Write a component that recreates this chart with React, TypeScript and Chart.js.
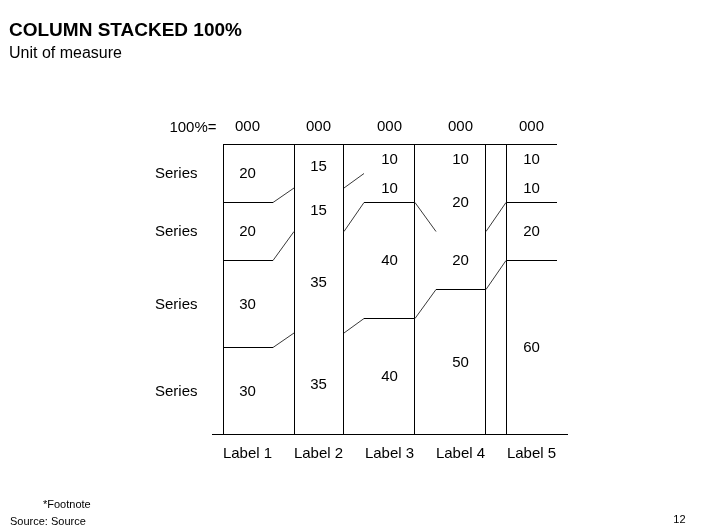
import React, { useEffect, useRef } from 'react';
import { Chart, registerables } from 'chart.js';

Chart.register(...registerables);

// ---------- data ----------
const CATEGORIES = ['Label 1', 'Label 2', 'Label 3', 'Label 4', 'Label 5'];
const TOTAL_LABELS = ['000', '000', '000', '000', '000'];
const SERIES_NAMES = ['Series', 'Series', 'Series', 'Series']; // bottom -> top
const SERIES_A = [30, 35, 40, 50, 60];
const SERIES_B = [30, 35, 40, 20, 20];
const SERIES_C = [20, 15, 10, 20, 10];
const SERIES_D = [20, 15, 10, 10, 10];
const SERIES_VALUES = [SERIES_A, SERIES_B, SERIES_C, SERIES_D];

const TITLE = 'COLUMN STACKED 100%';
const SUBTITLE = 'Unit of measure';
const TOTAL_PREFIX = '100%=';
const FOOTNOTE = '*Footnote';
const SOURCE = 'Source: Source';
const PAGE_NUMBER = '12';

// ---------- style ----------
const FONT = "'Liberation Sans', Arial, Helvetica, sans-serif";
const LABEL_SIZE = 15;
// column frame edges, as fractions of the category width (left shift, right shift)
const COLUMN_EDGES = [
  [0.155, 0.155],
  [0.155, -0.141],
  [-0.141, -0.141],
  [-0.141, -0.141],
  [0.141, -0.141],
];
const COLUMN_RIGHT_BORDER = [true, true, true, true, false];
// where divider lines start / stop inside each column (fractions of category width)
const LINE_INSETS = [
  [0, 0.296],
  [0, 0],
  [0.282, 0],
  [0.296, 0],
  [0, 0],
];
// which stack boundaries get a divider line in each column
const DIVIDERS = [[1, 2, 3], [], [1, 2], [1], [1, 2]];

const crisp = (v: number) => Math.floor(v) + 0.5;

const framePlugin = {
  id: 'mekkoFrame',
  afterDatasetsDraw(chart: any) {
    const { ctx, chartArea } = chart;
    const xs = chart.scales.x;
    const ys = chart.scales.y;
    const n = CATEGORIES.length;
    const w = n > 1 ? xs.getPixelForValue(1) - xs.getPixelForValue(0) : xs.width;

    const cols = CATEGORIES.map((_, i) => {
      const c = xs.getPixelForValue(i);
      const left = c - w / 2 + COLUMN_EDGES[i][0] * w;
      const right = c + w / 2 + COLUMN_EDGES[i][1] * w;
      const cum = [0];
      SERIES_VALUES.forEach((s) => cum.push(cum[cum.length - 1] + s[i]));
      const total = cum[cum.length - 1];
      const yAt = (k: number) => ys.getPixelForValue((cum[k] / total) * 100);
      return {
        c,
        left,
        right,
        cum,
        total,
        yAt,
        lineL: left + LINE_INSETS[i][0] * w,
        lineR: right - LINE_INSETS[i][1] * w,
      };
    });

    const top = crisp(ys.getPixelForValue(100));
    const bottom = ys.getPixelForValue(0);

    ctx.save();
    // frame lines
    ctx.strokeStyle = '#000';
    ctx.lineWidth = 1;
    ctx.beginPath();
    ctx.moveTo(Math.floor(cols[0].left), top);
    ctx.lineTo(Math.floor(cols[n - 1].right) + 1, top);
    cols.forEach((col, i) => {
      ctx.moveTo(crisp(col.left), top);
      ctx.lineTo(crisp(col.left), bottom);
      if (COLUMN_RIGHT_BORDER[i]) {
        ctx.moveTo(crisp(col.right), top);
        ctx.lineTo(crisp(col.right), bottom);
      }
      DIVIDERS[i].forEach((k) => {
        const y = crisp(col.yAt(k));
        ctx.moveTo(Math.floor(col.lineL), y);
        ctx.lineTo(Math.floor(col.lineR) + 1, y);
      });
    });
    ctx.stroke();

    // connectors between neighbouring columns
    ctx.strokeStyle = '#222';
    ctx.lineWidth = 0.9;
    ctx.beginPath();
    for (let i = 0; i < n - 1; i++) {
      const a = cols[i];
      const b = cols[i + 1];
      for (let k = 1; k < SERIES_VALUES.length; k++) {
        if (a.cum[k] / a.total === b.cum[k] / b.total) continue;
        ctx.moveTo(a.lineR, a.yAt(k) + 0.5);
        ctx.lineTo(b.lineL, b.yAt(k) + 0.5);
      }
    }
    ctx.stroke();

    // value labels
    ctx.fillStyle = '#000';
    ctx.font = `${LABEL_SIZE}px ${FONT}`;
    ctx.textAlign = 'center';
    ctx.textBaseline = 'alphabetic';
    const off = LABEL_SIZE * 0.358;
    cols.forEach((col, i) => {
      SERIES_VALUES.forEach((s, k) => {
        const y = (col.yAt(k) + col.yAt(k + 1)) / 2;
        ctx.fillText(String(s[i]), col.c, y + off);
      });
    });

    // series names beside the first column
    ctx.textAlign = 'right';
    const first = cols[0];
    SERIES_NAMES.forEach((name, k) => {
      const y = (first.yAt(k) + first.yAt(k + 1)) / 2;
      ctx.fillText(name, chartArea.left - 14.5, y + off);
    });

    // 100%= prefix in line with the totals row
    ctx.fillText(TOTAL_PREFIX, chartArea.left + 4.5, chartArea.top - 17 + off);
    ctx.restore();
  },
  afterDraw(chart: any) {
    const { ctx, width } = chart;
    ctx.save();
    ctx.fillStyle = '#000';
    ctx.textBaseline = 'alphabetic';
    ctx.textAlign = 'left';
    ctx.font = `bold 19px ${FONT}`;
    ctx.fillText(TITLE, 9, 36);
    ctx.font = `16px ${FONT}`;
    ctx.fillText(SUBTITLE, 9, 57.5);
    ctx.font = `11px ${FONT}`;
    ctx.fillText(FOOTNOTE, 43, 508);
    ctx.fillText(SOURCE, 10, 525);
    ctx.textAlign = 'right';
    ctx.fillText(PAGE_NUMBER, width - 20.5, 523);
    ctx.restore();
  },
};

export default function App() {
  const canvasRef = useRef<HTMLCanvasElement | null>(null);

  useEffect(() => {
    const canvas = canvasRef.current;
    if (!canvas) return;
    const chart = new Chart(canvas, {
      type: 'bar',
      data: {
        labels: CATEGORIES,
        datasets: SERIES_VALUES.map((values, k) => ({
          label: SERIES_NAMES[k],
          data: values.map((v, i) => {
            const total = SERIES_VALUES.reduce((acc, s) => acc + s[i], 0);
            return (v / total) * 100;
          }),
          backgroundColor: 'rgba(255,255,255,0)',
          borderWidth: 0,
          barPercentage: 1,
          categoryPercentage: 1,
        })),
      },
      options: {
        responsive: false,
        animation: false,
        devicePixelRatio: 1,
        layout: { padding: { left: 212, right: 139, top: 110, bottom: 55 } },
        plugins: {
          legend: { display: false },
          title: { display: false },
          tooltip: { enabled: false },
        },
        scales: {
          x: {
            type: 'category',
            position: 'bottom',
            stacked: true,
            offset: true,
            grid: { display: false, drawTicks: false },
            border: { display: true, color: '#000', width: 1 },
            ticks: {
              color: '#000',
              padding: 11,
              maxRotation: 0,
              autoSkip: false,
              font: { family: FONT, size: LABEL_SIZE },
            },
          },
          x2: {
            type: 'category',
            position: 'top',
            labels: TOTAL_LABELS,
            offset: true,
            grid: { display: false, drawTicks: false },
            border: { display: false },
            ticks: {
              color: '#000',
              padding: 8,
              maxRotation: 0,
              autoSkip: false,
              font: { family: FONT, size: LABEL_SIZE },
            },
          },
          y: {
            type: 'linear',
            stacked: true,
            min: 0,
            max: 100,
            display: false,
          },
        },
      },
      plugins: [framePlugin],
    } as any);
    return () => chart.destroy();
  }, []);

  return (
    <div style={{ position: 'absolute', left: 0, top: 0, width: 706, height: 529, background: '#fff' }}>
      <canvas ref={canvasRef} width={706} height={529} style={{ display: 'block' }} />
    </div>
  );
}
